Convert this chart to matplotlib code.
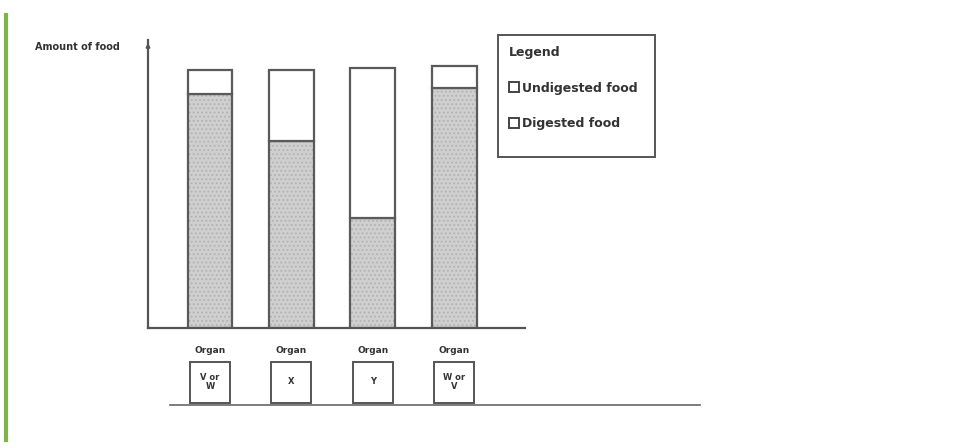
import matplotlib
matplotlib.use("Agg")
import matplotlib.pyplot as plt
from matplotlib.patches import Rectangle
from matplotlib.lines import Line2D

organs = ["V or\nW", "X", "Y", "W or\nV"]
digested = [9.07, 7.25, 4.26, 9.30]
undigested = [0.93, 2.75, 5.82, 0.86]
legend_labels = ["Undigested food", "Digested food"]
y_label = "Amount of food"

plt.rcParams["hatch.linewidth"] = 0.8

W, H = 965, 448
fig = plt.figure(figsize=(W / 100, H / 100), dpi=100)
fig.patch.set_facecolor("white")

def fx(px):
    return px / W

def fy(py):
    return 1 - py / H

ax = fig.add_axes([fx(148), fy(328), fx(525) - fx(148), fy(40) - fy(328)])
x = list(range(len(organs)))
edge = "#5a5a5a"
ax.bar(x, digested, width=0.55, color="#cfcfcf", edgecolor="none", linewidth=0)
ax.bar(x, digested, width=0.55, color="none", edgecolor="#b2b2b2", linewidth=0, hatch="....")
ax.bar(x, digested, width=0.55, color="none", edgecolor=edge, linewidth=1.6)
ax.bar(x, undigested, width=0.55, bottom=digested, color="white", edgecolor=edge, linewidth=1.6)
ax.set_xlim(-0.763, 3.87)
ax.set_ylim(0, 11.16)
for s in ["top", "right"]:
    ax.spines[s].set_visible(False)
for s in ["left", "bottom"]:
    ax.spines[s].set_color("#555555")
    ax.spines[s].set_linewidth(1.6)
ax.set_xticks([])
ax.set_yticks([])
ax.set_facecolor("none")
ax.annotate("", xy=(0, 1.0), xytext=(0, 0.96), xycoords="axes fraction",
            arrowprops=dict(arrowstyle="-|>", color="#555555", lw=1.2, mutation_scale=6))

fig.text(fx(35), fy(47), y_label, fontsize=7, fontweight="bold", color="#333333",
         ha="left", va="center")

fig.canvas.draw()
for i, lab in enumerate(organs):
    cx_disp = ax.transData.transform((x[i], 0))[0]
    cx = cx_disp / fig.bbox.width
    fig.text(cx, fy(350), "Organ", fontsize=6.5, fontweight="bold", color="#333333",
             ha="center", va="center")
    bw, bh = fx(40) - fx(0), fy(362) - fy(403)
    fig.patches.append(Rectangle((cx - bw / 2, fy(403)), bw, bh, transform=fig.transFigure,
                                 fill=False, edgecolor="#555555", linewidth=1.4))
    fig.text(cx, fy(382), lab, fontsize=6, fontweight="bold", color="#333333",
             ha="center", va="center", linespacing=1.0)

fig.add_artist(Line2D([fx(170), fx(700)], [fy(405), fy(405)], transform=fig.transFigure,
                      color="#666666", linewidth=1.2))
fig.add_artist(Line2D([fx(5.5), fx(5.5)], [fy(15), fy(440)], transform=fig.transFigure,
                      color="#7ab648", linewidth=3))

# legend frame drawn at the reference's box size
fig.patches.append(Rectangle((fx(498), fy(157)), fx(655) - fx(498), fy(35) - fy(157),
                             transform=fig.transFigure, fill=False,
                             edgecolor="#555555", linewidth=1.4))
handles = [Line2D([], [], marker="s", linestyle="none", markerfacecolor="white",
                  markeredgecolor="#444444", markersize=7, markeredgewidth=1.4)
           for _ in legend_labels]
leg = fig.legend(handles, legend_labels, title="Legend", loc="upper left",
                 bbox_to_anchor=(fx(498), fy(35)), fontsize=9, title_fontsize=9,
                 frameon=False, borderpad=0.9,
                 labelspacing=1.8, handletextpad=0.25, handlelength=0.8, alignment="left",
                 borderaxespad=0)
for t in leg.get_texts():
    t.set_fontweight("bold")
    t.set_color("#333333")
leg.get_title().set_fontweight("bold")
leg.get_title().set_color("#333333")

fig.savefig("out.png", dpi=100)
